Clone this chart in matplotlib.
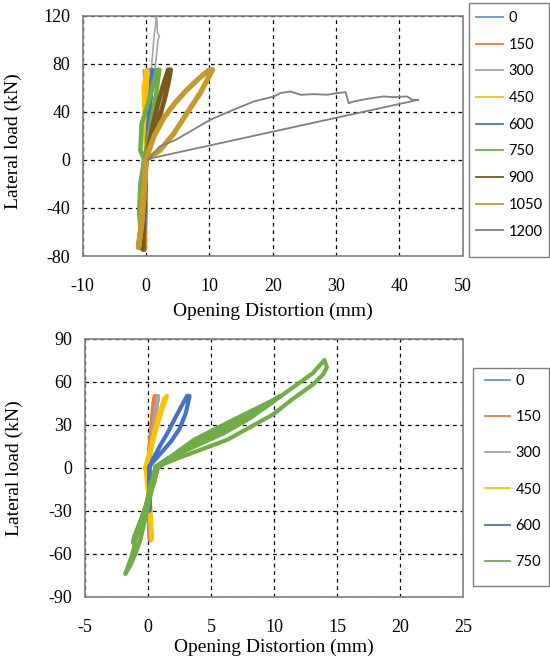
from matplotlib import pyplot as plt
from matplotlib.lines import Line2D
from matplotlib.patches import Rectangle

# top chart: opening distortion (mm) vs lateral load (kN), one loop per series
top_labels = ["0", "150", "300", "450", "600", "750", "900", "1050", "1200"]
top_colors = ["#5B9BD5", "#ED7D31", "#A5A5A5", "#FFC000", "#4472C4",
              "#70AD47", "#7A5A1A", "#C49A2C", "#7F7F7F"]
top_widths = [3.0, 3.0, 1.2, 3.0, 3.0, 3.2, 3.4, 3.8, 1.3]

top_x = [
    [0, 0.2, 0.5, 0.7, 0.4, 0.1, 0, -0.2, -0.4, -0.3, -0.1, 0],
    [0, 0.1, 0.3, 0.2, 0, -0.1, -0.2, -0.1, 0],
    [0, -0.2, -0.4, -0.1, 0, 0.3, 0.6, 0.9, 1.1, 1.3, 1.5, 1.6, 1.7, 1.8, 2.1, 1.9,
     1.7, 0.8, 0, -0.2, -0.3, -0.1, 0],
    [0, -0.2, -0.4, 0.1, 0.4, 0.3, 0.1, 0, -0.3, -0.5, -0.2, 0],
    [0, 0.3, 0.7, 1.0, 0.8, 0.4, 0, -0.2, -0.4, -0.2, 0],
    [-0.3, -0.9, -0.7, 0.2, 1.0, 1.7, 2.1, 1.6, 0.9, 0.3, -0.3, -0.9, -1.1, -0.8, -0.6, -0.3],
    [0, 0.9, 2.0, 3.0, 3.6, 3.9, 3.5, 2.7, 1.8, 0.9, 0.3, 0, -0.2, -0.5, -0.6, -0.3, 0],
    [0, 2.2, 4.4, 6.6, 8.6, 10.0, 10.5, 10.0, 8.4, 6.4, 4.5, 2.8, 1.3, 0.3, 0,
     -0.2, -0.6, -1.0, -1.2, -0.8, -0.4, 0],
    [0.3, 2.1, 4.7, 7.4, 10.1, 13.8, 17.0, 20.2, 21.2, 22.8, 24.4, 26.5, 28.6, 30.2, 31.5,
     32.0, 32.8, 34.9, 37.5, 39.1, 41.2, 42.0, 43.0, 0.5],
]
top_y = [
    [0, 25, 55, 75, 50, 20, 0, -30, -60, -75, -40, 0],
    [0, 35, 75, 40, 0, -40, -75, -35, 0],
    [0, 40, 75, 35, 0, 30, 60, 80, 92, 105, 112, 119, 117, 106, 103, 100,
     90, 45, 0, -40, -75, -35, 0],
    [0, 30, 60, 75, 72, 40, 10, 0, -40, -75, -40, 0],
    [0, 25, 55, 75, 60, 25, 0, -35, -75, -35, 0],
    [0, 8, 30, 45, 60, 75, 75, 55, 35, 15, 0, -20, -45, -60, -30, 0],
    [0, 15, 33, 52, 66, 75, 75, 62, 45, 25, 8, 0, -30, -60, -74, -40, 0],
    [0, 8, 22, 40, 56, 70, 75, 75, 68, 58, 47, 35, 20, 6, 0,
     -20, -50, -65, -73, -55, -25, 0],
    [0, 11, 16.7, 25, 33.3, 41.7, 48.6, 52.8, 55.6, 56.9, 54.2, 54.7, 54.2, 55.6, 56.4,
     47.2, 48.6, 50.8, 52.8, 52.2, 52.8, 50, 50, 1],
]

# bottom chart
bot_labels = ["0", "150", "300", "450", "600", "750"]
bot_colors = ["#5B9BD5", "#ED7D31", "#A5A5A5", "#FFC000", "#4472C4", "#70AD47"]

bot_x = [
    [0, 0.2, 0.45, 0.6, 0.4, 0.1, 0, 0.05, 0.15, 0.1, 0],
    [0, 0.2, 0.4, 0.55, 0.35, 0.1, 0, 0.1, 0.2, 0.1, 0],
    [0, 0.3, 0.6, 0.8, 0.5, 0.2, 0, 0.1, 0.25, 0.15, 0],
    [-0.2, 0.3, 0.8, 1.3, 1.5, 1.1, 0.6, 0.1, -0.2, 0.1, 0.3, 0.2, 0],
    [0.1, 0.2, 1.0, 1.8, 2.5, 3.0, 3.3, 3.1, 2.6, 2.0, 1.6, 1.0, 0.4, 0.1,
     0.1, 0.2, 0.1],
    [0.6, 2.0, 4.0, 6.0, 8.0, 9.8, 10.5, 9.5, 7.5, 5.5, 3.5, 1.5, 0.6,
     0.3, -0.3, -0.8, -1.0, -0.6, -0.1, 0.4, 0.6,
     2.0, 3.65, 6.8, 10.5, 13.1, 14.0, 14.2, 13.9, 13.1, 11.5, 9.9, 6.3, 2.4, 0.75,
     0.5, 0.1, -0.4, -0.9, -1.1, -1.3, -1.8, -1.4, -1.0, -0.6, -0.2, 0.3, 0.8,
     2.2, 4.2, 6.5, 8.6, 10.3, 9.2, 7.0, 5.0, 3.0, 1.2, 0.6,
     0.2, -0.5, -1.1, -1.2, -0.7, -0.2, 0.2, 0.6],
]
bot_y = [
    [0, 20, 45, 50, 35, 10, 0, -25, -50, -25, 0],
    [0, 20, 42, 50, 30, 10, 0, -25, -50, -25, 0],
    [0, 20, 40, 50, 30, 10, 0, -25, -50, -25, 0],
    [0, 18, 35, 48, 50, 40, 25, 8, 0, -25, -50, -30, 0],
    [0, 2, 10, 18, 27, 38, 50, 50, 42, 32, 25, 16, 6, 0,
     -30, -15, 0],
    [0, 8, 16, 24, 34, 45, 50, 44, 32, 23, 15, 6, 1,
     -15, -30, -45, -50, -40, -25, -8, 0,
     9, 19.5, 33.5, 49.6, 66, 75, 70, 65, 58, 48, 37, 19.5, 6.7, 0.9,
     -10, -20, -32, -45, -55, -62, -74, -68, -60, -50, -35, -15, 0,
     9, 19, 29, 39, 49, 43, 30, 21, 13, 4, 0,
     -18, -35, -48, -52, -42, -28, -12, 0],
]

plt.rcParams['font.family'] = ['Liberation Serif', 'DejaVu Serif']
plt.rcParams['axes.unicode_minus'] = False

fig = plt.figure(figsize=(5.5, 6.59), dpi=100)
ax1 = fig.add_axes([0.1504, 0.6115, 0.6909, 0.3647])
ax2 = fig.add_axes([0.1545, 0.0941, 0.6873, 0.3922])


def style_axes(ax, xlim, xticks, ylim, yticks, xpad):
    ax.set_xlim(xlim)
    ax.set_ylim(ylim)
    ax.set_xticks(xticks)
    ax.set_yticks(yticks)
    ax.grid(True, color="black", linestyle=(0, (3, 3)), linewidth=0.9)
    ax.set_axisbelow(True)
    for s in ax.spines.values():
        s.set_color("#7F7F7F")
        s.set_linewidth(1.2)
    ax.tick_params(axis="both", length=0, labelsize=13)
    ax.tick_params(axis="x", pad=16)
    ax.tick_params(axis="y", pad=9)
    ax.set_xlabel("Opening Distortion (mm)", fontsize=14, labelpad=xpad)
    ax.set_ylabel("Lateral load (kN)", fontsize=14)


for x, y, c, w in zip(top_x, top_y, top_colors, top_widths):
    ax1.plot(x, y, color=c, linewidth=w, solid_joinstyle="round")
style_axes(ax1, (-10, 50), range(-10, 51, 10), (-80, 120), range(-80, 121, 40), 5)
ax1.yaxis.set_label_coords(-0.16, 0.48)

for x, y, c in zip(bot_x, bot_y, bot_colors):
    ax2.plot(x, y, color=c, linewidth=3.0, solid_joinstyle="round")
style_axes(ax2, (-5, 25), range(-5, 26, 5), (-90, 90), range(-90, 91, 30), 2)
ax2.yaxis.set_label_coords(-0.165, 0.5)

# legends, Excel style boxes
fig.add_artist(Rectangle((469 / 550, 1 - 257 / 659), 80 / 550, 254 / 659,
                         transform=fig.transFigure, fill=False,
                         edgecolor="#7F7F7F", linewidth=1.0))
h1 = [Line2D([], [], color=c, linewidth=1.3) for c in top_colors]
fig.legend(h1, top_labels, loc="upper left", bbox_to_anchor=(476 / 550, 1 - 11 / 659),
           frameon=False, borderpad=0, borderaxespad=0, handlelength=1.87,
           handletextpad=0.36, labelspacing=0.87, prop={"family": "Lato", "size": 10.5})

fig.add_artist(Rectangle((473 / 550, 1 - 586 / 659), 76 / 550, 218 / 659,
                         transform=fig.transFigure, fill=False,
                         edgecolor="#7F7F7F", linewidth=1.0))
h2 = [Line2D([], [], color=c, linewidth=1.3) for c in bot_colors]
fig.legend(h2, bot_labels, loc="upper left", bbox_to_anchor=(485 / 550, 1 - 374 / 659),
           frameon=False, borderpad=0, borderaxespad=0, handlelength=1.73,
           handletextpad=0.36, labelspacing=1.52, prop={"family": "Lato", "size": 10.5})

fig.savefig("out.png", dpi=100)
